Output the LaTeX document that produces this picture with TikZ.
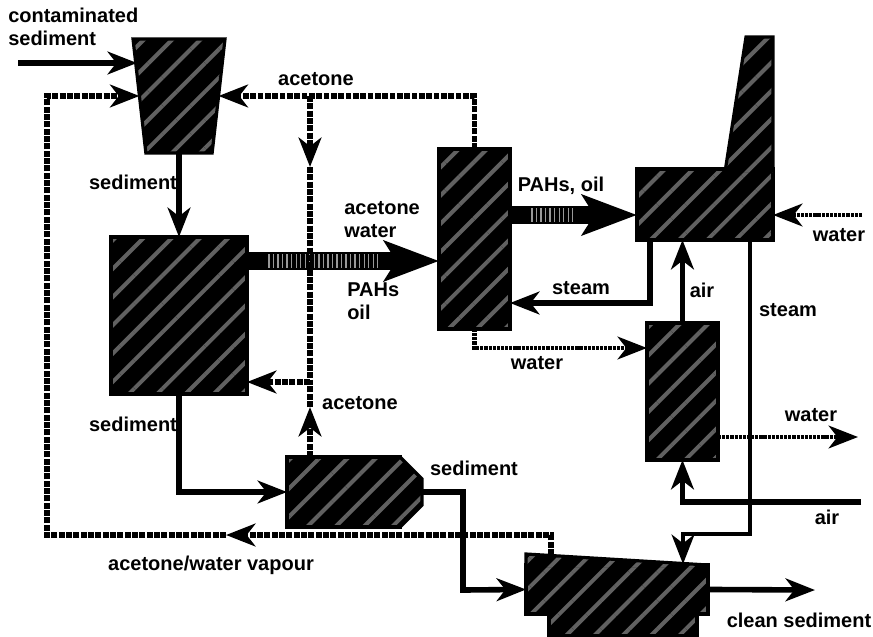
\documentclass[tikz,border=0pt]{standalone}
\usepackage{fontspec}
\setmainfont{Liberation Sans}
\usetikzlibrary{arrows.meta,positioning,shapes.geometric,patterns.meta}

\begin{document}
\begin{tikzpicture}[
  x=0.75pt,y=-0.75pt,
  hatched/.style={preaction={fill=black},pattern={Lines[angle=45,distance=15pt,line width=3pt]},pattern color=black!62},
  unit/.style={hatched,draw=black,line width=2.4pt,line join=miter,inner sep=1pt,outer sep=0pt},
  head/.style={-{Stealth[length=22pt,width=17pt,inset=6.5pt]}},
  pipe/.style={head,line width=4.2pt,line join=miter,draw=black},
  recycle/.style={head,line width=4.2pt,draw=black,dash pattern=on 4.4pt off 1.1pt},
  liquor/.style={head,line width=3.2pt,draw=black,dash pattern=on 2.4pt off 0.7pt},
  bigflow/.style={-{Stealth[length=41pt,width=30pt,inset=9pt]},line width=13pt,draw=black,
    postaction={draw=gray!80,-,line width=11pt,shorten >=46pt,shorten <=16pt,dash pattern=on 1pt off 2.4pt}},
  tag/.style={font=\fontsize{15}{17.5}\bfseries\selectfont,inner sep=0pt,align=left}
]
\useasboundingbox (0,0) rectangle (873,636);
% process units
\node[unit,minimum width=102pt,minimum height=117.75pt] (reactor) at (179,315.5) {};
\node[unit,trapezium,shape border rotate=180,trapezium stretches=true,trapezium angle=79,
  minimum width=69pt,minimum height=85.5pt,above=63pt of reactor] (hopper) {};
\node[unit,minimum width=53.25pt,minimum height=135pt,right=144pt of reactor,yshift=57.4pt] (column) {};
\node[unit,minimum width=102pt,minimum height=53.25pt,right=95.25pt of column,yshift=25.9pt] (boiler) {};
\node[unit,minimum width=53.25pt,minimum height=102.75pt,below=62.25pt of boiler,xshift=-16.9pt] (stripper) {};
\node[unit,minimum width=84.75pt,minimum height=52.5pt,below=47.25pt of reactor,xshift=123.4pt] (decanter) {};
\node[unit,minimum width=136.5pt,minimum height=36.75pt,right=94.5pt of decanter,yshift=-73.1pt] (dryer) {};
% parts of the stack, the decanter and the dryer
\path[unit] (725,172) -- (746,37) -- (773,37) -- (773,172);
\path[unit] (398,457) -- (400,457) -- (422,479) -- (422,505) -- (400,527) -- (398,527);
\path[unit] (526,567) -- (526,554) -- (708,565) -- (708,567);
\path[unit] (549,612) -- (549,636) -- (697,636) -- (697,612);
% free ends and junctions
\coordinate (feed) at (18,63);
\coordinate (hopin) at (137,63);
\coordinate (split) at (310,96);
\coordinate (downtip) at (310,167);
\coordinate (join) at (310,382);
\coordinate (uptip) at (310,407);
\coordinate (colin) at (439,261);
\coordinate (oilin) at (637,215);
\coordinate (waterfeed) at (862,215);
\coordinate (stream) at (650,303);
\coordinate (steamout) at (750,534);
\coordinate (steamtip) at (683,564);
\coordinate (bleed) at (858,437);
\coordinate (airfeed) at (861,502);
\coordinate (nose) at (422,492);
\coordinate (vapour) at (551,555);
\coordinate (vapmid) at (226,535);
% main flows
\draw[bigflow] (reactor.east |- colin) -- (colin);
\draw[bigflow] (column.east |- oilin) -- (oilin);
\draw[pipe] (feed) -- (hopin);
\draw[pipe] (hopper.south) -- (reactor.north);
\draw[pipe,line width=5pt] (reactor.south) |- (decanter.west);
\draw[pipe] (nose) -| (463,590) -- (dryer.west);
\draw[pipe] (dryer.east) -- (815,590);
% acetone
\draw[recycle] (column.north) |- (hopper.east);
\draw[recycle] (split) -- (downtip);
\draw[recycle,-] (downtip) -- (join);
\draw[recycle] (join) -- (reactor.east |- join);
\draw[recycle] (decanter.north -| uptip) -- (uptip);
\draw[recycle,-] (uptip) -- (join);
\draw[recycle] (vapour) |- (vapmid);
\draw[recycle] (vapmid) -- (47,535) |- (hopper.west);
% water, steam and air
\draw[liquor] (column.south) |- (stripper.west |- 0,348);
\draw[liquor] (stripper.east |- bleed) -- (bleed);
\draw[liquor] (waterfeed) -- (boiler.east |- waterfeed);
\draw[pipe] (boiler.south -| stream) -- (stream) -- (column.east |- stream);
\draw[pipe] (stripper.north) -- (stripper.north |- boiler.south);
\draw[pipe,line width=3.4pt] (boiler.south -| steamout) -- (steamout) -| (steamtip);
\draw[pipe] (airfeed) -| (stripper.south);
% labels
\node[tag,anchor=west] (lblfeed) at (8,27) {contaminated\\sediment};
\node[tag] (lbltop) at (316,79) {acetone};
\node[tag] (lblsed) at (133,182) {sediment};
\node[tag,anchor=west] (lblmix) at (344,219.5) {acetone\\water};
\node[tag,anchor=west] (lblpah) at (347,301.5) {PAHs\\oil};
\node[tag] (lbloil) at (561,186) {PAHs, oil};
\node[tag] (lblsteam) at (581,288) {steam};
\node[tag] (lblair) at (702,290) {air};
\node[tag] (lblsteamb) at (788,310) {steam};
\node[tag] (lblwater) at (839,235) {water};
\node[tag] (lblwaterb) at (537,363) {water};
\node[tag] (lblwaterc) at (811,415) {water};
\node[tag] (lblairb) at (827,517) {air};
\node[tag] (lblsedb) at (474,468) {sediment};
\node[tag] (lblsedc) at (133,424) {sediment};
\node[tag] (lblace) at (360,403) {acetone};
\node[tag] (lblvap) at (211,565) {acetone/water vapour};
\node[tag] (lblclean) at (799,620) {clean sediment};
\end{tikzpicture}
\end{document}
